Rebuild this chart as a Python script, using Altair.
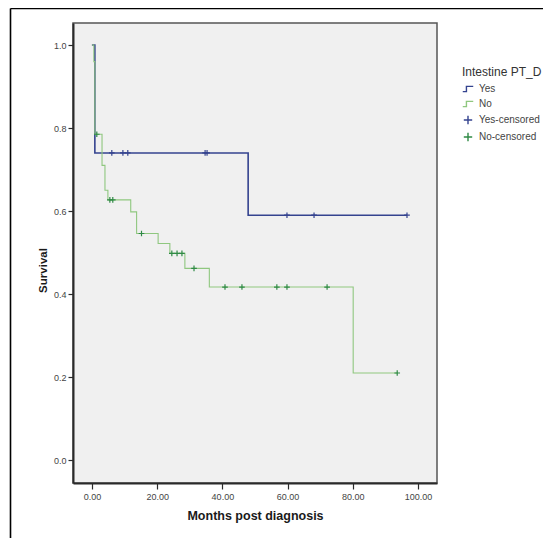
import altair as alt
import pandas as pd

# ---- data ----
groups = ["Yes", "No"]
cens_groups = ["Yes-censored", "No-censored"]

# Yes: step points (time, survival after the step) and last follow-up time
yes_times = [0.0, 0.9, 47.9]
yes_surv = [1.0, 0.74, 0.59]
yes_end = 96.6
yes_censored = [6.1, 9.5, 11.0, 34.7, 35.3, 59.8, 68.1, 96.6]

# No
no_times = [0.0, 0.6, 0.9, 3.1, 4.0, 4.9, 11.9, 13.7, 20.3, 23.9, 28.5, 36.0, 80.1]
no_surv = [1.0, 0.96, 0.785, 0.71, 0.65, 0.627, 0.598, 0.546, 0.522, 0.498, 0.462, 0.417, 0.21]
no_end = 93.6
no_censored = [1.5, 5.5, 6.4, 15.2, 24.5, 26.1, 27.6, 31.3, 40.8, 46.0, 56.7, 59.8, 72.1, 93.6]

x_ticks = [0, 20, 40, 60, 80, 100]
y_ticks = [0.0, 0.2, 0.4, 0.6, 0.8, 1.0]


def surv_at(t, times, surv):
    val = surv[0]
    for ti, si in zip(times, surv):
        if ti <= t:
            val = si
    return val


line_rows = []
for g, times, surv, end in [("Yes", yes_times, yes_surv, yes_end),
                            ("No", no_times, no_surv, no_end)]:
    for ti, si in zip(times, surv):
        line_rows.append({"grp": g, "t": ti, "s": si})
    line_rows.append({"grp": g, "t": end, "s": surv[-1]})
lines_df = pd.DataFrame(line_rows)

cens_rows = []
for g, cts, times, surv in [("Yes-censored", yes_censored, yes_times, yes_surv),
                            ("No-censored", no_censored, no_times, no_surv)]:
    for c in cts:
        cens_rows.append({"grp": g, "t": c, "s": surv_at(c, times, surv)})
cens_df = pd.DataFrame(cens_rows)

domain_all = ["Yes", "No", "Yes-censored", "No-censored"]
color_scale = alt.Scale(domain=domain_all,
                        range=["#34438f", "#8fc77f", "#34438f", "#2f8a45"])
step_path = "M-1,0.5L-0.3,0.5L-0.3,-0.5L1,-0.5"
cross_path = "M-0.8,0L0.8,0M0,-0.8L0,0.8"
shape_scale = alt.Scale(domain=domain_all,
                        range=[step_path, step_path, cross_path, cross_path])
legend_def = alt.Legend(title="Intestine PT_D")

x_enc = alt.X("t:Q",
              scale=alt.Scale(domain=[-5.8, 105.8], nice=False, zero=False),
              axis=alt.Axis(values=x_ticks, format=".2f", title="Months post diagnosis",
                            grid=False, tickSize=6, labelPadding=3,
                            titleFontSize=12.5, titleFontWeight="bold",
                            titleColor="#1a1a1a", titlePadding=8))
y_enc = alt.Y("s:Q",
              scale=alt.Scale(domain=[-0.055, 1.053], nice=False, zero=False),
              axis=alt.Axis(values=y_ticks, format=".1f", title="Survival",
                            grid=False, tickSize=5, labelPadding=2,
                            titleFontSize=11.5, titleFontWeight="bold",
                            titleColor="#1a1a1a", titleX=-30, titleY=247,
                            titleBaseline="middle", titleAlign="center"))

lines = alt.Chart(lines_df).mark_line(interpolate="step-after", clip=True).encode(
    x=x_enc,
    y=y_enc,
    color=alt.Color("grp:N", scale=color_scale, legend=legend_def),
    strokeWidth=alt.StrokeWidth("grp:N",
                                scale=alt.Scale(domain=["Yes", "No"], range=[1.6, 1.1]),
                                legend=None),
)

points = alt.Chart(cens_df).mark_point(filled=False, size=50, strokeWidth=1.2,
                                       opacity=1, clip=True).encode(
    x="t:Q",
    y="s:Q",
    color=alt.Color("grp:N", scale=color_scale, legend=legend_def),
    shape=alt.Shape("grp:N", scale=shape_scale, legend=legend_def),
)

# page frame: top and left edges only, kept inside the drawing
frame_v = alt.Chart(alt.Data(values=[{}])).mark_rule(
    color="#000", strokeWidth=1.6).encode(
    x=alt.value(-62.5), y=alt.value(-14.5), y2=alt.value(515))
frame_h = alt.Chart(alt.Data(values=[{}])).mark_rule(
    color="#000", strokeWidth=1.6).encode(
    x=alt.value(-62.5), x2=alt.value(470), y=alt.value(-14.5))

chart = alt.layer(lines, points, frame_v, frame_h).properties(
    width=364, height=460,
    autosize=alt.AutoSizeParams(type="none"),
    padding={"left": 65, "top": 15, "right": 115, "bottom": 60},
    background="white",
).configure_view(
    fill="#f0f0f0", stroke="#555555", strokeWidth=1.5
).configure_axis(
    domainColor="#2a2a2a", domainWidth=2, tickColor="#2a2a2a", tickWidth=1.2,
    labelFont="Liberation Sans", titleFont="Liberation Sans",
    labelFontSize=9, labelColor="#444444",
).configure_legend(
    orient="none", legendX=389, legendY=44,
    titleFont="Liberation Sans", titleFontSize=12, titleFontWeight="normal",
    titleColor="#333333", titlePadding=4,
    labelFont="Liberation Sans", labelFontSize=10, labelColor="#444444",
    symbolSize=110, symbolStrokeWidth=1.4, rowPadding=3, labelOffset=5,
)

chart.save("out.html", embed_options={"renderer": "svg", "actions": False})
